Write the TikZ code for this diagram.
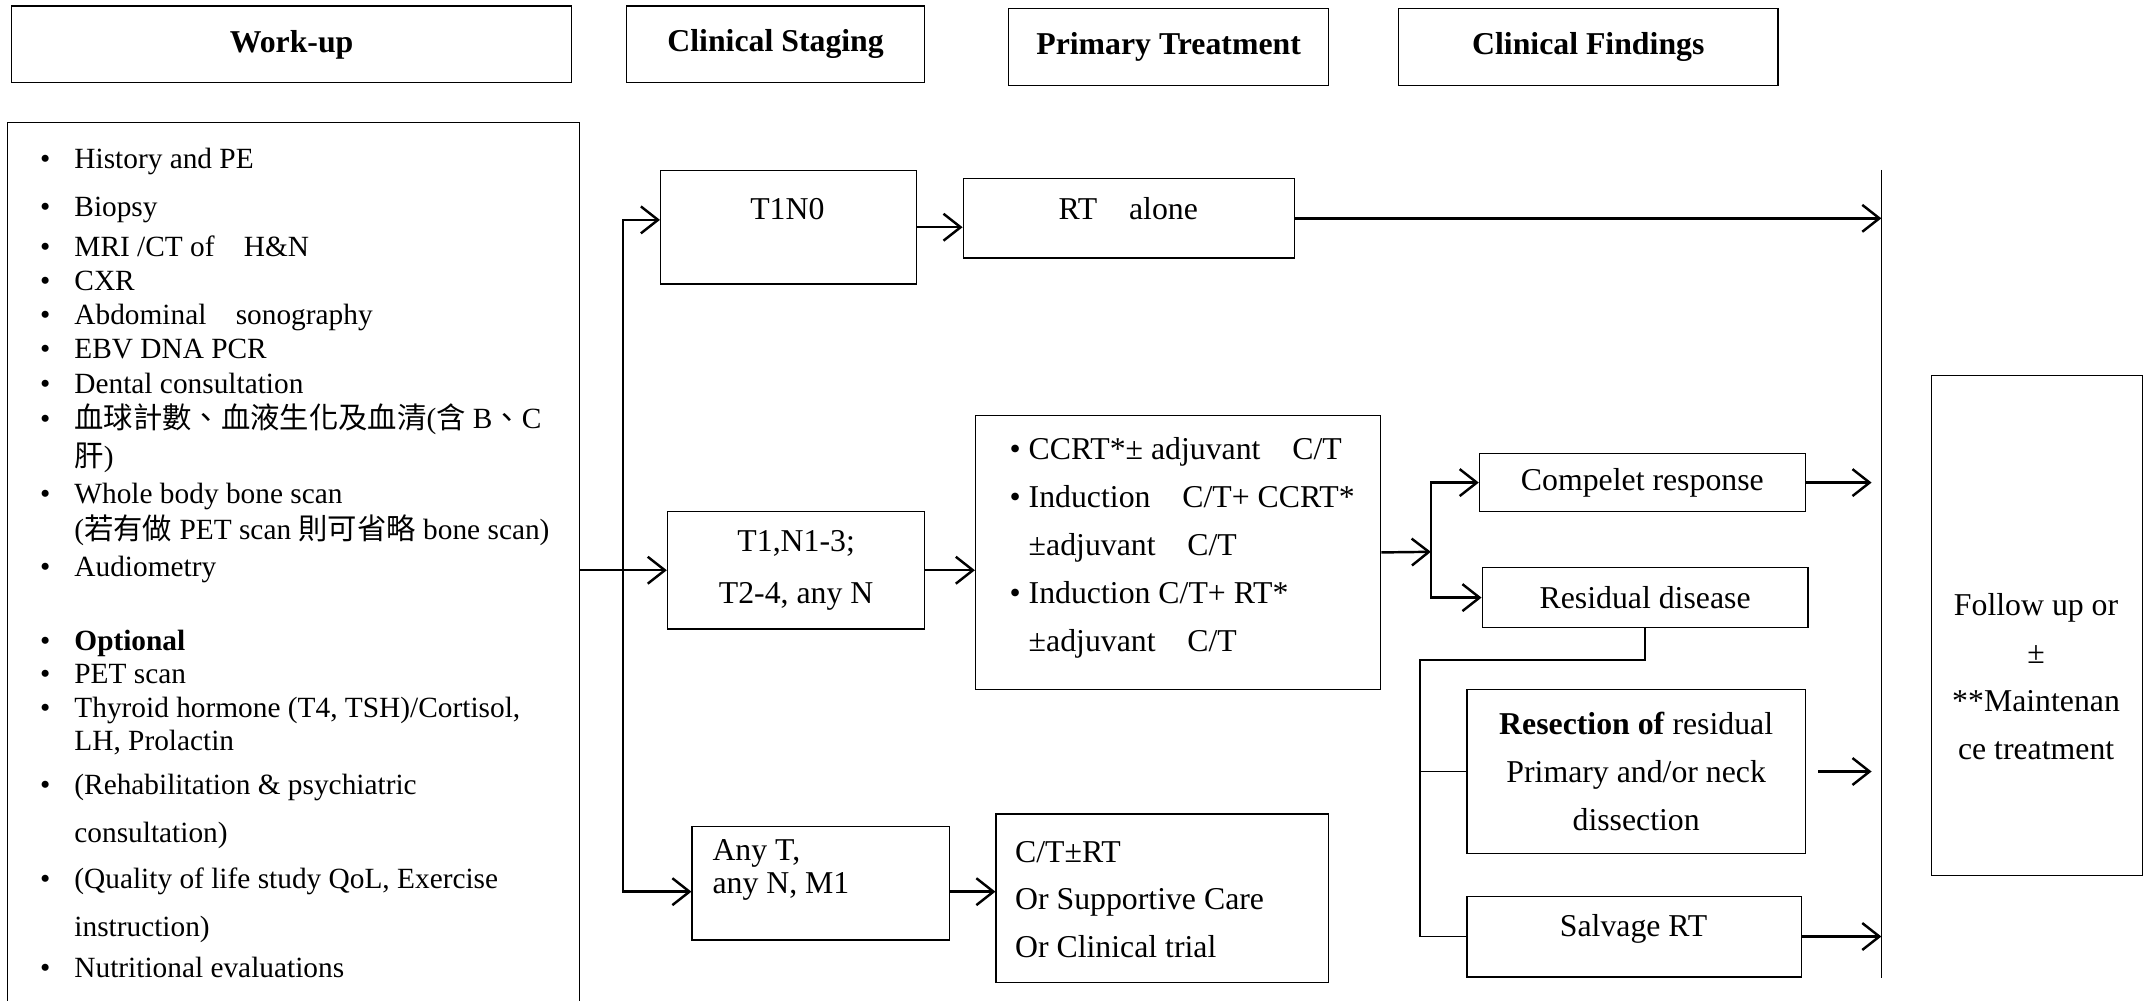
\documentclass[tikz,border=0pt]{standalone}
\usepackage{fontspec}
\setmainfont{Liberation Serif}
\newfontfamily\cjk{Noto Sans CJK TC}
\usetikzlibrary{arrows.meta}

\tikzset{
  box/.style={draw, line width=0.5pt, inner sep=0pt, anchor=north west},
  wh/.style 2 args={minimum width=#1*0.56pt, minimum height=#2*0.56pt},
  head/.style={box, font=\bfseries\fontsize{13}{15}\selectfont},
  txt/.style={inner sep=0pt, anchor=base, yshift=-4.5pt},
  item/.style={txt, anchor=base west, font=\fontsize{12}{14}\selectfont},
  block/.style={inner sep=0pt, font=\fontsize{13}{19.6}\selectfont},
  conn/.style={line width=1pt, -{Straight Barb[length=7pt,width=11pt]}},
  link/.style={line width=0.7pt},
  rule/.style={line width=0.5pt}
}

\begin{document}
\begin{tikzpicture}[x=0.56pt,y=-0.56pt,font=\fontsize{13}{15.6}\selectfont]
\useasboundingbox (0,0) rectangle (1568,731);

% column heads
\node[head, wh={409}{56}] (hwork) at (8,4) {Work-up};
\node[head, wh={218}{56}] (hstage) at (457,4) {Clinical Staging};
\node[head, wh={234}{56}] (htreat) at (736,6) {Primary Treatment};
\node[head, wh={277}{56}] (hfind) at (1021,6) {Clinical Findings};

% work-up list
\node[box, wh={418}{660}] (workup) at (5,89) {};
\foreach \yy [count=\i] in {115,150,179,204,229,254,279,305,360,413,467,491,516,572,641,706}
  \node[item] (dot\i) at (29,\yy) {•};
\foreach \yy/\tx [count=\i] in {
  115/{History and PE},
  150/{Biopsy},
  179/{MRI /CT of\quad H\&N},
  204/{CXR},
  229/{Abdominal\quad sonography},
  254/{EBV DNA PCR},
  279/{Dental consultation},
  305/{{\cjk 血球計數、血液生化及血清}({\cjk 含} B{\cjk 、}C},
  333/{{\cjk 肝})},
  360/{Whole body bone scan},
  386/{({\cjk 若有做} PET scan {\cjk 則可省略} bone scan)},
  413/{Audiometry},
  467/{\textbf{Optional}},
  491/{PET scan},
  516/{Thyroid hormone (T4, TSH)/Cortisol,},
  540/{LH, Prolactin},
  572/{(Rehabilitation \& psychiatric},
  607/{consultation)},
  641/{(Quality of life study QoL, Exercise},
  676/{instruction)},
  706/{Nutritional evaluations}}
  \node[item] (w\i) at (54,\yy) {\tx};

% staging
\node[box, wh={187}{83}] (t1n0) at (482,124) {};
\node[txt] (t1n0-t) at (575,152) {T1N0};
\node[box, wh={188}{86}, align=center, font=\fontsize{13}{21.3}\selectfont] (tnany) at (487,373) {T1,N1-3;\\T2-4, any N};
\node[box, wh={188}{83}] (anyt) at (505,603) {};
\node[block, anchor=west, align=left, font=\fontsize{13}{13.5}\selectfont] (anyt-t) at (520,635) {Any T,\\any N, M1};

% treatment
\node[box, wh={242}{58}] (rtalone) at (703,130) {};
\node[txt] (rtalone-t) at (824,152) {RT\quad alone};
\node[box, wh={296}{200}] (ccrt) at (712,303) {};
\node[block, anchor=west, align=left] (ccrt-t) at (737,400)
  {• CCRT*± adjuvant\quad C/T\\• Induction\quad C/T+ CCRT*\\\phantom{•\ }±adjuvant\quad C/T\\• Induction C/T+ RT*\\\phantom{•\ }±adjuvant\quad C/T};
\node[box, wh={243}{123}] (ctrt) at (727,594) {};
\node[block, anchor=west, align=left] (ctrt-t) at (741,657) {C/T±RT\\Or Supportive Care\\Or Clinical trial};

% findings
\node[box, wh={238}{42}] (compl) at (1080,331) {Compelet response};
\node[box, wh={238}{44}] (resid) at (1082,414) {Residual disease};
\node[box, wh={247}{120}, align=center, font=\fontsize{13}{19.6}\selectfont] (resec) at (1071,503) {\textbf{Resection of} residual\\Primary and/or neck\\dissection};
\node[box, wh={244}{59}] (salv) at (1071,654) {};
\node[txt] (salv-t) at (1193,676) {Salvage RT};
\node[box, wh={154}{365}] (follow) at (1410,274) {};
\node[block, align=center] (follow-t) at (1487,494) {Follow up or\\±\\**Maintenan\\ce treatment};

% collecting line
\coordinate (vtop) at (1374,124);
\coordinate (vbot) at (1374,714);
\draw[rule] (vtop) -- (vbot);

% connectors
\coordinate (split) at (455,416);
\draw[conn] (tnany.west -| workup.east) -- (tnany.west);
\draw[conn] (split) |- ([yshift=3pt]t1n0.west);
\draw[conn] (split) |- ([yshift=-3.5pt]anyt.west);
\draw[conn] (t1n0.east) -- (t1n0.east -| rtalone.west);
\draw[conn] (rtalone.east) -- (rtalone.east -| vtop);
\draw[conn] (tnany.east) -- (tnany.east -| ccrt.west);
\draw[conn] ([yshift=-3.5pt]anyt.east) -- ([yshift=-3.5pt]anyt.east -| ctrt.west);

\coordinate (split2) at (1045,403);
\draw[conn] (ccrt.east) -- (split2);
\draw[conn] (split2) |- (compl.west);
\draw[conn] (split2) |- (resid.west);
\draw[conn] (compl.east) -- ([xshift=-4pt]compl.east -| vtop);

\coordinate (bend) at (1037,482);
\draw[link] (resid.south) |- (bend) -- (bend |- salv.west) -- (salv.west);
\draw[link] (bend |- resec.west) -- (resec.west);
\draw[conn] ([xshift=5pt]resec.east) -- ([xshift=-4pt]resec.east -| vtop);
\draw[conn] (salv.east) -- (salv.east -| vtop);
\end{tikzpicture}
\end{document}
